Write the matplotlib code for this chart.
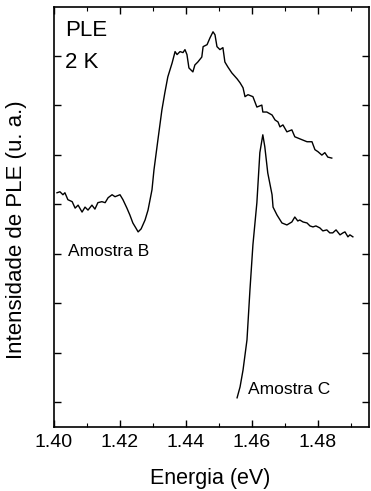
import matplotlib
matplotlib.use("Agg")
import matplotlib.pyplot as plt
from matplotlib.ticker import MultipleLocator, NullFormatter

plt.rcParams['font.family'] = ['Liberation Sans', 'DejaVu Sans']

# PLE spectrum, sample B (energy in eV, intensity in arb. units)
energy_b = [1.4009, 1.4018, 1.4027, 1.4033, 1.4042, 1.4055, 1.4064, 1.4073,
            1.4085, 1.4094, 1.4103, 1.4115, 1.4124, 1.4133, 1.4145, 1.4155,
            1.4164, 1.4176, 1.4185, 1.4200, 1.4209, 1.4221, 1.4230, 1.4239,
            1.4248, 1.4255, 1.4264, 1.4276, 1.4285, 1.4297, 1.4303, 1.4315,
            1.4327, 1.4336, 1.4345, 1.4358, 1.4367, 1.4373, 1.4382, 1.4391,
            1.4397, 1.4403, 1.4409, 1.4421, 1.4427, 1.4436, 1.4448, 1.4452,
            1.4464, 1.4473, 1.4482, 1.4488, 1.4494, 1.4503, 1.4512, 1.4518,
            1.4527, 1.4539, 1.4555, 1.4564, 1.4573, 1.4579, 1.4588, 1.4603,
            1.4615, 1.4630, 1.4633, 1.4645, 1.4661, 1.4670, 1.4679, 1.4685,
            1.4694, 1.4706, 1.4721, 1.4730, 1.4752, 1.4767, 1.4782, 1.4791,
            1.4800, 1.4812, 1.4821, 1.4830, 1.4842]
intensity_b = [4.73, 4.75, 4.69, 4.73, 4.59, 4.55, 4.42, 4.48,
               4.34, 4.44, 4.38, 4.48, 4.40, 4.53, 4.55, 4.53,
               4.63, 4.69, 4.65, 4.69, 4.59, 4.42, 4.28, 4.12,
               4.02, 3.94, 4.00, 4.18, 4.38, 4.79, 5.19, 5.80,
               6.40, 6.75, 7.07, 7.35, 7.58, 7.52, 7.58, 7.56,
               7.62, 7.52, 7.25, 7.17, 7.31, 7.37, 7.47, 7.68,
               7.72, 7.86, 7.98, 7.92, 7.68, 7.62, 7.66, 7.37,
               7.27, 7.15, 7.03, 6.95, 6.85, 6.67, 6.71, 6.67,
               6.46, 6.50, 6.36, 6.36, 6.30, 6.20, 6.16, 6.06,
               6.10, 5.96, 6.00, 5.86, 5.80, 5.76, 5.76, 5.60,
               5.56, 5.49, 5.54, 5.45, 5.43]

# PLE spectrum, sample C
energy_c = [1.4555, 1.4564, 1.4573, 1.4585, 1.4594, 1.4603, 1.4615, 1.4624,
            1.4633, 1.4639, 1.4648, 1.4661, 1.4664, 1.4676, 1.4691, 1.4706,
            1.4721, 1.4730, 1.4739, 1.4745, 1.4755, 1.4767, 1.4776, 1.4785,
            1.4794, 1.4806, 1.4815, 1.4827, 1.4836, 1.4845, 1.4855, 1.4867,
            1.4876, 1.4882, 1.4891, 1.4897, 1.4906]
intensity_c = [0.59, 0.81, 1.15, 1.76, 2.77, 3.68, 4.53, 5.54,
               5.90, 5.66, 5.13, 4.69, 4.44, 4.28, 4.12, 4.08,
               4.14, 4.24, 4.16, 4.18, 4.14, 4.12, 4.06, 4.04,
               4.06, 4.02, 3.96, 3.98, 3.92, 3.92, 3.98, 3.88,
               3.92, 3.94, 3.84, 3.88, 3.84]

x_ticks = [1.40, 1.42, 1.44, 1.46, 1.48]
x_tick_labels = ["1.40", "1.42", "1.44", "1.46", "1.48"]

fig = plt.figure(figsize=(3.71, 4.91), dpi=100)
ax = fig.add_axes([0.1456, 0.1303, 0.8491, 0.8554])

ax.plot(energy_b, intensity_b, color='black', lw=1.0)
ax.plot(energy_c, intensity_c, color='black', lw=1.0)

ax.set_xlim(1.40, 1.4955)
ax.set_ylim(0, 8.48)

ax.set_xticks(x_ticks)
ax.set_xticklabels(x_tick_labels, fontsize=14)
ax.xaxis.set_minor_locator(MultipleLocator(0.01))
ax.set_yticks([0.5 + i for i in range(8)])
ax.yaxis.set_major_formatter(NullFormatter())

ax.tick_params(axis='both', which='major', direction='in', length=5,
               width=1.0, top=True, right=True, pad=5)
ax.tick_params(axis='both', which='minor', direction='in', length=3,
               width=0.8, top=True, right=True)
for s in ax.spines.values():
    s.set_linewidth(1.2)

ax.set_xlabel("Energia (eV)", fontsize=15.5)
ax.xaxis.set_label_coords(0.495, -0.098)
ax.set_ylabel("Intensidade de PLE (u. a.)", fontsize=16)
ax.yaxis.set_label_coords(-0.085, 0.471)

ax.text(0.035, 0.945, "PLE", transform=ax.transAxes, fontsize=16,
        va='center', ha='left')
ax.text(0.035, 0.867, "2 K", transform=ax.transAxes, fontsize=16,
        va='center', ha='left')
ax.text(0.044, 0.417, "Amostra B", transform=ax.transAxes, fontsize=12.5,
        va='center', ha='left')
ax.text(0.616, 0.090, "Amostra C", transform=ax.transAxes, fontsize=12.5,
        va='center', ha='left')

fig.savefig("out.png", dpi=100, facecolor='white')
